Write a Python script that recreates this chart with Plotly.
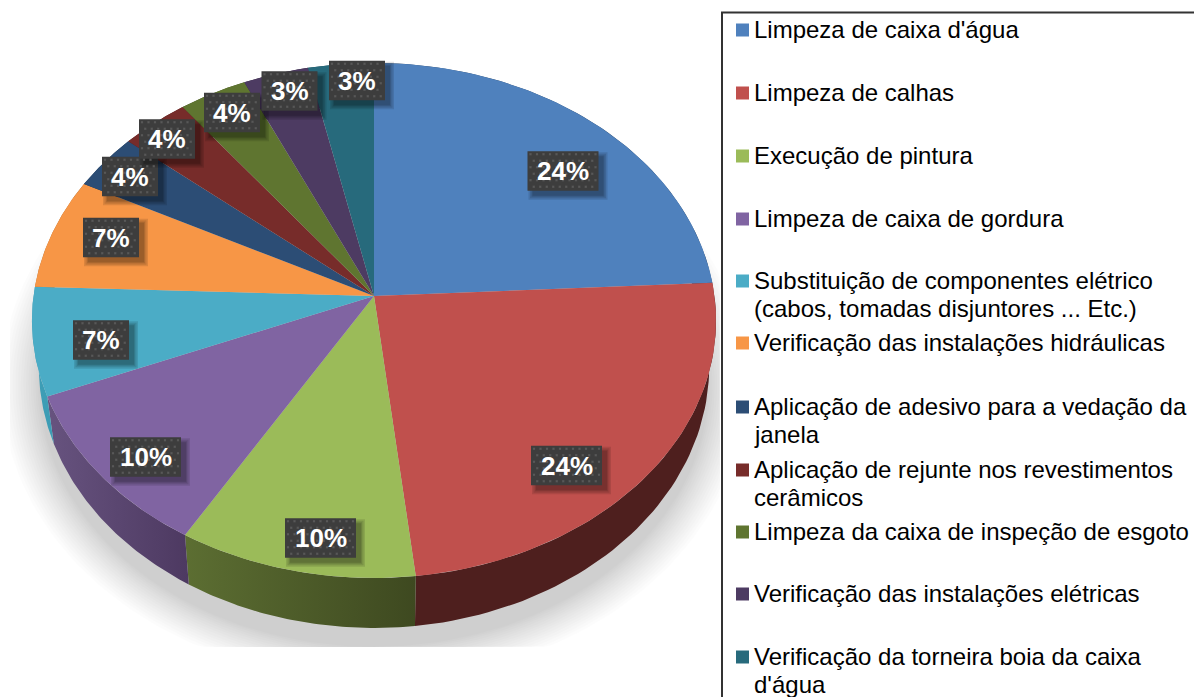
import numpy as np
import plotly.graph_objects as go

categories = ["Limpeza de caixa d'água", "Limpeza de calhas", "Execução de pintura",
              "Limpeza de caixa de gordura",
              "Substituição de componentes elétrico<br>(cabos, tomadas disjuntores ... Etc.)",
              "Verificação das instalações hidráulicas",
              "Aplicação de adesivo para a vedação da<br>janela",
              "Aplicação de rejunte nos revestimentos<br>cerâmicos",
              "Limpeza da caixa de inspeção de esgoto",
              "Verificação das instalações elétricas",
              "Verificação da torneira boia da caixa<br>d'água"]
values = [24.2, 24.1, 10.3, 10.3, 6.8, 7.0, 3.55, 3.55, 3.55, 3.4, 3.4]
percent_labels = ["24%", "24%", "10%", "10%", "7%", "7%", "4%", "4%", "4%", "3%", "3%"]

colors = ["#4f81bd", "#c0504d", "#9bbb59", "#8064a2", "#4bacc6", "#f79646",
          "#2c4d75", "#772c2a", "#5f7530", "#4d3b62", "#276a7c"]
wall_left = ["#2a4566", "#4e1f1e", "#5c6e32", "#67537f", "#3d9db5", "#a86a30",
             "#1c3450", "#4e1f1e", "#3f4e20", "#33273f", "#1a4753"]
wall_right = ["#2a4566", "#4e1f1e", "#3e4920", "#4d3961", "#3d9db5", "#a86a30",
              "#1c3450", "#4e1f1e", "#3f4e20", "#33273f", "#1a4753"]

# label box centres and legend layout, all in page pixels
label_cx = [563, 566.5, 320.5, 145.5, 101, 111, 130, 167, 232, 289.5, 357]
label_cy = [171, 465.5, 538, 457, 340, 237.5, 176.5, 139, 112.5, 91, 80.5]
legend_first_y = [30, 93, 156, 219, 281, 343, 407, 470, 532, 594, 657]
LEGEND_LINE_STEP = 28

CX, CY, A, B, K = 374.0, 296.0, 255.2, 340.5, 0.095


def top_point(theta):
    u, v = np.sin(theta), np.cos(theta)
    w = 1 + K * v
    return CX + B * u / w, CY - A * v / w


def lower_point(theta):
    x, y = top_point(theta)
    return CX + (x - CX) * 0.98, 366 + (y - 320) * 262 / 258


fig = go.Figure()

# soft shadow
for i in range(16):
    d = 38 * (1 - i / 15) ** 1.15
    t = np.linspace(0, 2 * np.pi, 240)
    sx = np.clip(374 + (335 + d) * np.sin(t), 10, 720)
    sy = np.clip(385 + (262 + d * 0.9) * np.cos(t), 0, 647)
    fig.add_trace(go.Scatter(x=sx, y=sy, mode="lines", fill="toself", line=dict(width=0),
                             fillcolor="rgba(0,0,0,0.0135)", hoverinfo="skip", showlegend=False))

total = sum(values)
edges = np.concatenate([[0], np.cumsum(values)]) / total * 2 * np.pi

# side walls
for i, name in enumerate(categories):
    t = np.linspace(edges[i], edges[i + 1], 60)
    x1, y1 = top_point(t)
    x2, y2 = lower_point(t[::-1])
    fig.add_trace(go.Scatter(x=np.r_[x1, x2], y=np.r_[y1, y2], mode="lines", fill="toself",
                             line=dict(width=0), hoverinfo="skip", showlegend=False,
                             fillgradient=dict(type="horizontal",
                                               colorscale=[[0, wall_left[i]], [1, wall_right[i]]])))

# top faces
for i, name in enumerate(categories):
    t = np.linspace(edges[i], edges[i + 1], 80)
    x1, y1 = top_point(t)
    fig.add_trace(go.Scatter(x=np.r_[CX, x1, CX], y=np.r_[CY, y1, CY], mode="lines", fill="toself",
                             line=dict(width=0), fillcolor=colors[i], name=name.replace("<br>", " "),
                             hoverinfo="name", showlegend=False))

# data label boxes: blurred shadow, box, dot texture
dot_x, dot_y = [], []
for i, lab in enumerate(percent_labels):
    w = 71 if len(lab) == 3 else 56
    h = 39.5
    cx, cy = label_cx[i], label_cy[i]
    for grow in (4, 2.5, 1, 0):
        fig.add_trace(go.Scatter(
            x=[cx - w / 2 + 5 - grow, cx + w / 2 + 5 + grow, cx + w / 2 + 5 + grow, cx - w / 2 + 5 - grow],
            y=[cy - h / 2 + 5 - grow, cy - h / 2 + 5 - grow, cy + h / 2 + 5 + grow, cy + h / 2 + 5 + grow],
            mode="lines", fill="toself", line=dict(width=0), fillcolor="rgba(0,0,0,0.11)",
            hoverinfo="skip", showlegend=False))
    fig.add_trace(go.Scatter(x=[cx - w / 2, cx + w / 2, cx + w / 2, cx - w / 2],
                             y=[cy - h / 2, cy - h / 2, cy + h / 2, cy + h / 2],
                             mode="lines", fill="toself", line=dict(width=0), fillcolor="#3d3d3d",
                             hoverinfo="skip", showlegend=False))
    for r, gy in enumerate(np.arange(cy - h / 2 + 3, cy + h / 2 - 1, 6.5)):
        for gx in np.arange(cx - w / 2 + 3 + (r % 2) * 3.25, cx + w / 2 - 1, 6.5):
            dot_x.append(gx)
            dot_y.append(gy)
fig.add_trace(go.Scatter(x=dot_x, y=dot_y, mode="markers",
                         marker=dict(size=2.2, color="#585858", symbol="square", line=dict(width=0)),
                         hoverinfo="skip", showlegend=False))

# legend keys
fig.add_trace(go.Scatter(x=[742.5] * len(colors), y=legend_first_y, mode="markers",
                         marker=dict(size=13, color=colors, symbol="square", line=dict(width=0)),
                         hoverinfo="skip", showlegend=False))

annotations = []
for i, lab in enumerate(percent_labels):
    annotations.append(dict(x=label_cx[i], y=label_cy[i], text=f"<b>{lab}</b>", showarrow=False,
                            xref="x", yref="y", xanchor="center", yanchor="middle",
                            font=dict(family="Liberation Sans", size=26, color="white")))
for i, name in enumerate(categories):
    for j, line in enumerate(name.split("<br>")):
        annotations.append(dict(x=751.5, y=legend_first_y[i] + j * LEGEND_LINE_STEP - 1, text=line,
                                showarrow=False, align="left", xref="x", yref="y",
                                xanchor="left", yanchor="middle",
                                font=dict(family="Liberation Sans", size=24, color="#000000")))

fig.update_layout(
    width=1194, height=697, margin=dict(l=0, r=0, t=0, b=0),
    paper_bgcolor="white", plot_bgcolor="white", showlegend=False,
    xaxis=dict(range=[0, 1194], visible=False, fixedrange=True),
    yaxis=dict(range=[697, 0], visible=False, fixedrange=True),
    annotations=annotations,
    shapes=[dict(type="line", x0=722, x1=722, y0=12, y1=697, line=dict(color="#333333", width=2)),
            dict(type="line", x0=721, x1=1194, y0=12.5, y1=12.5, line=dict(color="#333333", width=2))],
)

fig.write_html("out.html", config={"displayModeBar": False},
               post_script="document.body.style.margin='0';document.body.style.overflow='hidden';")
